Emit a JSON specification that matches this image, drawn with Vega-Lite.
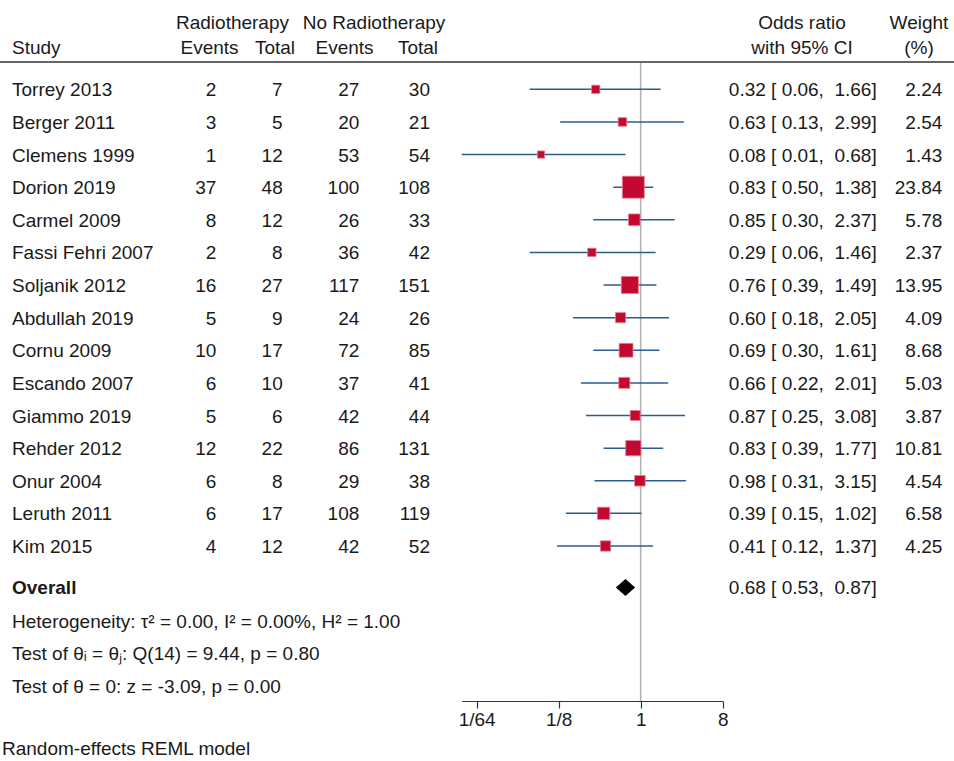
{
  "$schema": "https://vega.github.io/schema/vega-lite/v6.json",
  "width": 954,
  "height": 701,
  "autosize": {"type": "none"},
  "padding": {"left": 0, "top": 0, "right": 0, "bottom": 60},
  "background": "white",
  "config": {
    "view": {"stroke": null},
    "text": {"font": "Liberation Sans", "fontSize": 19, "color": "#1a1a1a", "baseline": "middle"}
  },
  "datasets": {
    "rows": [
      {"kind": "study", "row": 0, "study": "Torrey 2013", "rt_e": 2, "rt_t": 7, "nrt_e": 27, "nrt_t": 30, "or": 0.32, "lo": 0.06, "hi": 1.66, "w": 2.24, "ci": "0.32 [ 0.06,\u00a0 1.66]"},
      {"kind": "study", "row": 1, "study": "Berger 2011", "rt_e": 3, "rt_t": 5, "nrt_e": 20, "nrt_t": 21, "or": 0.63, "lo": 0.13, "hi": 2.99, "w": 2.54, "ci": "0.63 [ 0.13,\u00a0 2.99]"},
      {"kind": "study", "row": 2, "study": "Clemens 1999", "rt_e": 1, "rt_t": 12, "nrt_e": 53, "nrt_t": 54, "or": 0.08, "lo": 0.0107, "hi": 0.68, "w": 1.43, "ci": "0.08 [ 0.01,\u00a0 0.68]"},
      {"kind": "study", "row": 3, "study": "Dorion 2019", "rt_e": 37, "rt_t": 48, "nrt_e": 100, "nrt_t": 108, "or": 0.83, "lo": 0.5, "hi": 1.38, "w": 23.84, "ci": "0.83 [ 0.50,\u00a0 1.38]"},
      {"kind": "study", "row": 4, "study": "Carmel 2009", "rt_e": 8, "rt_t": 12, "nrt_e": 26, "nrt_t": 33, "or": 0.85, "lo": 0.3, "hi": 2.37, "w": 5.78, "ci": "0.85 [ 0.30,\u00a0 2.37]"},
      {"kind": "study", "row": 5, "study": "Fassi Fehri 2007", "rt_e": 2, "rt_t": 8, "nrt_e": 36, "nrt_t": 42, "or": 0.29, "lo": 0.06, "hi": 1.46, "w": 2.37, "ci": "0.29 [ 0.06,\u00a0 1.46]"},
      {"kind": "study", "row": 6, "study": "Soljanik 2012", "rt_e": 16, "rt_t": 27, "nrt_e": 117, "nrt_t": 151, "or": 0.76, "lo": 0.39, "hi": 1.49, "w": 13.95, "ci": "0.76 [ 0.39,\u00a0 1.49]"},
      {"kind": "study", "row": 7, "study": "Abdullah 2019", "rt_e": 5, "rt_t": 9, "nrt_e": 24, "nrt_t": 26, "or": 0.6, "lo": 0.18, "hi": 2.05, "w": 4.09, "ci": "0.60 [ 0.18,\u00a0 2.05]"},
      {"kind": "study", "row": 8, "study": "Cornu 2009", "rt_e": 10, "rt_t": 17, "nrt_e": 72, "nrt_t": 85, "or": 0.69, "lo": 0.3, "hi": 1.61, "w": 8.68, "ci": "0.69 [ 0.30,\u00a0 1.61]"},
      {"kind": "study", "row": 9, "study": "Escando 2007", "rt_e": 6, "rt_t": 10, "nrt_e": 37, "nrt_t": 41, "or": 0.66, "lo": 0.22, "hi": 2.01, "w": 5.03, "ci": "0.66 [ 0.22,\u00a0 2.01]"},
      {"kind": "study", "row": 10, "study": "Giammo 2019", "rt_e": 5, "rt_t": 6, "nrt_e": 42, "nrt_t": 44, "or": 0.87, "lo": 0.25, "hi": 3.08, "w": 3.87, "ci": "0.87 [ 0.25,\u00a0 3.08]"},
      {"kind": "study", "row": 11, "study": "Rehder 2012", "rt_e": 12, "rt_t": 22, "nrt_e": 86, "nrt_t": 131, "or": 0.83, "lo": 0.39, "hi": 1.77, "w": 10.81, "ci": "0.83 [ 0.39,\u00a0 1.77]"},
      {"kind": "study", "row": 12, "study": "Onur 2004", "rt_e": 6, "rt_t": 8, "nrt_e": 29, "nrt_t": 38, "or": 0.98, "lo": 0.31, "hi": 3.15, "w": 4.54, "ci": "0.98 [ 0.31,\u00a0 3.15]"},
      {"kind": "study", "row": 13, "study": "Leruth 2011", "rt_e": 6, "rt_t": 17, "nrt_e": 108, "nrt_t": 119, "or": 0.39, "lo": 0.15, "hi": 1.02, "w": 6.58, "ci": "0.39 [ 0.15,\u00a0 1.02]"},
      {"kind": "study", "row": 14, "study": "Kim 2015", "rt_e": 4, "rt_t": 12, "nrt_e": 42, "nrt_t": 52, "or": 0.41, "lo": 0.12, "hi": 1.37, "w": 4.25, "ci": "0.41 [ 0.12,\u00a0 1.37]"},
      {"kind": "overall", "row": 15.27, "or": 0.68, "lo": 0.53, "hi": 0.87, "ci": "0.68 [ 0.53,\u00a0 0.87]"}
    ],
    "notes": [
      {"row": -1.254, "col": "main", "text": "Study", "bold": false},
      {"row": 15.29, "col": "main", "text": "Overall", "bold": true},
      {"row": 16.34, "col": "main", "text": "Heterogeneity: τ² = 0.00, I² = 0.00%, H² = 1.00", "bold": false},
      {"row": 17.31, "col": "main", "text": "Test of θᵢ = θⱼ: Q(14) = 9.44, p = 0.80", "bold": false},
      {"row": 18.31, "col": "main", "text": "Test of θ = 0: z = -3.09, p = 0.00", "bold": false},
      {"row": 20.22, "col": "foot", "text": "Random-effects REML model", "bold": false}
    ],
    "headers": [
      {"row": -2.03, "col": "rt", "text": "Radiotherapy"},
      {"row": -2.03, "col": "nrt", "text": "No Radiotherapy"},
      {"row": -1.254, "col": "ev1", "text": "Events"},
      {"row": -1.254, "col": "tot1", "text": "Total"},
      {"row": -1.254, "col": "ev2", "text": "Events"},
      {"row": -1.254, "col": "tot2", "text": "Total"},
      {"row": -2.03, "col": "or", "text": "Odds ratio"},
      {"row": -1.254, "col": "or", "text": "with 95% CI"},
      {"row": -2.03, "col": "wt", "text": "Weight"},
      {"row": -1.254, "col": "wt", "text": "(%)"}
    ],
    "refs": [
      {"row": -0.81, "row_end": 18.752, "or": 1}
    ],
    "divider": [
      {"row": -0.837}
    ]
  },
  "encoding": {
    "y": {"field": "row", "type": "quantitative", "scale": {"domain": [-2.738, 18.752], "reverse": true, "nice": false, "zero": false}, "axis": null}
  },
  "resolve": {"scale": {"x": "independent"}},
  "layer": [
    {
      "data": {"name": "divider"},
      "mark": {"type": "rule", "color": "#333333", "strokeWidth": 1.6},
      "encoding": {}
    },
    {
      "data": {"name": "refs"},
      "mark": {"type": "rule", "color": "#b3b3b3", "strokeWidth": 1.6},
      "encoding": {
        "x": {"field": "or", "type": "quantitative", "scale": {"type": "log", "domain": [0.0107, 8], "range": [461.7, 722.7], "nice": false}, "axis": null},
        "y2": {"field": "row_end"}
      }
    },
    {
      "data": {"name": "rows"},
      "transform": [{"filter": "datum.kind === 'study'"}],
      "mark": {"type": "rule", "color": "#2b5d91", "strokeWidth": 1.5},
      "encoding": {
        "x": {
          "field": "lo", "type": "quantitative",
          "scale": {"type": "log", "domain": [0.0107, 8], "range": [461.7, 722.7], "nice": false},
          "axis": {
            "values": [0.015625, 0.125, 1, 8],
            "labelExpr": "datum.value > 4 ? '8' : datum.value > 0.5 ? '1' : datum.value > 0.1 ? '1/8' : '1/64'",
            "title": null, "grid": false,
            "domainColor": "#333333", "domainWidth": 1.2,
            "tickColor": "#333333", "tickWidth": 1.2, "tickSize": 7,
            "labelFont": "Liberation Sans", "labelFontSize": 19, "labelColor": "#1a1a1a",
            "labelPadding": 2, "labelFlush": false, "labelOverlap": false
          }
        },
        "x2": {"field": "hi"}
      }
    },
    {
      "data": {"name": "rows"},
      "transform": [{"filter": "datum.kind === 'study'"}],
      "mark": {"type": "square", "filled": true, "color": "#c4082f", "opacity": 1, "stroke": "#e58596", "strokeWidth": 0.8},
      "encoding": {
        "x": {"field": "or", "type": "quantitative", "scale": {"type": "log", "domain": [0.0107, 8], "range": [461.7, 722.7], "nice": false}, "axis": null},
        "size": {"field": "w", "type": "quantitative", "scale": {"domain": [1.43, 23.84], "range": [53, 484], "zero": false}, "legend": null}
      }
    },
    {
      "data": {"name": "rows"},
      "transform": [{"filter": "datum.kind === 'overall'"}],
      "mark": {"type": "point", "shape": "M-1,0L0,-0.88L1,0L0,0.88Z", "filled": true, "color": "#000000", "opacity": 1, "size": 372},
      "encoding": {
        "x": {"field": "or", "type": "quantitative", "scale": {"type": "log", "domain": [0.0107, 8], "range": [461.7, 722.7], "nice": false}, "axis": null}
      }
    },
    {
      "data": {"name": "rows"},
      "transform": [{"filter": "datum.kind === 'study'"}, {"fold": ["study"], "as": ["col", "val"]}],
      "mark": {"type": "text", "align": "left", "dy": 1},
      "encoding": {
        "x": {"field": "col", "type": "nominal", "scale": {"domain": ["study"], "range": [12, 12], "padding": 0}, "axis": null},
        "text": {"field": "val", "type": "nominal"}
      }
    },
    {
      "data": {"name": "rows"},
      "transform": [{"filter": "datum.kind === 'study'"}, {"fold": ["rt_e", "rt_t"], "as": ["col", "val"]}],
      "mark": {"type": "text", "align": "right", "dy": 1},
      "encoding": {
        "x": {"field": "col", "type": "nominal", "scale": {"domain": ["rt_e", "rt_t"], "range": [216.3, 282.7], "padding": 0}, "axis": null},
        "text": {"field": "val", "type": "nominal"}
      }
    },
    {
      "data": {"name": "rows"},
      "transform": [{"filter": "datum.kind === 'study'"}, {"fold": ["nrt_e", "nrt_t"], "as": ["col", "val"]}],
      "mark": {"type": "text", "align": "right", "dy": 1},
      "encoding": {
        "x": {"field": "col", "type": "nominal", "scale": {"domain": ["nrt_e", "nrt_t"], "range": [359.3, 430], "padding": 0}, "axis": null},
        "text": {"field": "val", "type": "nominal"}
      }
    },
    {
      "data": {"name": "rows"},
      "transform": [{"fold": ["ci", "w"], "as": ["col", "val"]}, {"filter": "isValid(datum.val)"}],
      "mark": {"type": "text", "align": "right", "dy": 1},
      "encoding": {
        "x": {"field": "col", "type": "nominal", "scale": {"domain": ["ci", "w"], "range": [876.7, 942.3], "padding": 0}, "axis": null},
        "text": {"field": "val", "type": "nominal"}
      }
    },
    {
      "data": {"name": "notes"},
      "transform": [{"filter": "datum.bold"}],
      "mark": {"type": "text", "align": "left", "fontWeight": "bold"},
      "encoding": {
        "x": {"field": "col", "type": "nominal", "scale": {"domain": ["main", "foot"], "range": [12, 2], "padding": 0}, "axis": null},
        "text": {"field": "text", "type": "nominal"}
      }
    },
    {
      "data": {"name": "notes"},
      "transform": [{"filter": "!datum.bold"}],
      "mark": {"type": "text", "align": "left"},
      "encoding": {
        "x": {"field": "col", "type": "nominal", "scale": {"domain": ["main", "foot"], "range": [12, 2], "padding": 0}, "axis": null},
        "text": {"field": "text", "type": "nominal"}
      }
    },
    {
      "data": {"name": "headers"},
      "transform": [{"filter": {"field": "col", "oneOf": ["ev1", "tot1"]}}],
      "mark": {"type": "text", "align": "center"},
      "encoding": {
        "x": {"field": "col", "type": "nominal", "scale": {"domain": ["ev1", "tot1"], "range": [209.5, 275], "padding": 0}, "axis": null},
        "text": {"field": "text", "type": "nominal"}
      }
    },
    {
      "data": {"name": "headers"},
      "transform": [{"filter": {"field": "col", "oneOf": ["ev2", "tot2"]}}],
      "mark": {"type": "text", "align": "center"},
      "encoding": {
        "x": {"field": "col", "type": "nominal", "scale": {"domain": ["ev2", "tot2"], "range": [344.5, 418], "padding": 0}, "axis": null},
        "text": {"field": "text", "type": "nominal"}
      }
    },
    {
      "data": {"name": "headers"},
      "transform": [{"filter": {"field": "col", "oneOf": ["rt", "nrt"]}}],
      "mark": {"type": "text", "align": "center"},
      "encoding": {
        "x": {"field": "col", "type": "nominal", "scale": {"domain": ["rt", "nrt"], "range": [232.5, 374], "padding": 0}, "axis": null},
        "text": {"field": "text", "type": "nominal"}
      }
    },
    {
      "data": {"name": "headers"},
      "transform": [{"filter": {"field": "col", "oneOf": ["or", "wt"]}}],
      "mark": {"type": "text", "align": "center"},
      "encoding": {
        "x": {"field": "col", "type": "nominal", "scale": {"domain": ["or", "wt"], "range": [802, 919], "padding": 0}, "axis": null},
        "text": {"field": "text", "type": "nominal"}
      }
    }
  ]
}
